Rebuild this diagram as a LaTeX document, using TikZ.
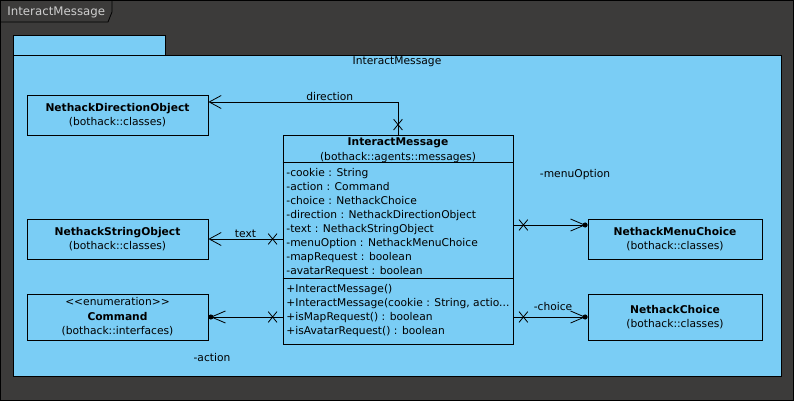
\documentclass[tikz,border=0pt]{standalone}
\usepackage{fontspec}
\setmainfont{DejaVu Sans}
\usetikzlibrary{arrows.meta,shapes.misc}
\definecolor{pkgblue}{RGB}{122,205,245}
\definecolor{framegray}{RGB}{60,59,58}
\definecolor{tabtext}{RGB}{205,205,205}
\tikzset{
  umlfont/.style={font=\fontsize{10.7}{14.5}\selectfont},
  cls/.style={shape=rectangle,draw=black,fill=pkgblue,align=center,inner sep=0pt,umlfont},
  member/.style={anchor=base west,inner sep=0pt,umlfont},
  xmark/.style={shape=cross out,draw=black,minimum width=8pt,minimum height=10pt,inner sep=0pt},
  nav/.style={-{Straight Barb[length=12pt,width=13pt]}},
  owned/.style={-{Straight Barb[length=14pt,width=12pt,sep=-3pt]Circle[length=5pt]}},
}
\begin{document}
\begin{tikzpicture}[x=1pt,y=-1pt,line width=0.8pt]
	\useasboundingbox (0,0) rectangle (794,401);
	% diagram frame
	\fill[framegray] (0,0) rectangle (794,401);
	\draw[black] (0.5,0.5) rectangle (793.5,400.5);
	\draw[black] (0.5,0.5) -- (112,0.5) -- (112,12) -- (108,22) -- (0.5,22);
	\node[font=\fontsize{11.8}{14}\selectfont,text=tabtext,anchor=west,inner sep=0pt] (frame) at (7,12) {InteractMessage};
	% package
	\node[shape=rectangle,draw=black,fill=pkgblue,minimum width=152pt,minimum height=20pt,inner sep=0pt] (pkgtab) at (89,45) {};
	\node[shape=rectangle,draw=black,fill=pkgblue,minimum width=768pt,minimum height=321pt,inner sep=0pt] (pkg) at (397,215.5) {};
	\node[umlfont,inner sep=0pt] (pkgname) at (397,62) {InteractMessage};
	% classes
	\node[cls,minimum width=181pt,minimum height=40pt] (dirobj) at (117.5,115) {\textbf{NethackDirectionObject}\\(bothack::classes)};
	\node[cls,minimum width=181pt,minimum height=40pt] (strobj) at (117.5,239) {\textbf{NethackStringObject}\\(bothack::classes)};
	\node[cls,minimum width=181pt,minimum height=46pt] (command) at (117.5,317) {<\kern0pt<enumeration>\kern0pt>\\\textbf{Command}\\(bothack::interfaces)};
	\node[cls,minimum width=174pt,minimum height=40pt] (menuchoice) at (675,239) {\textbf{NethackMenuChoice}\\(bothack::classes)};
	\node[cls,minimum width=174pt,minimum height=46pt] (choice) at (675,317) {\textbf{NethackChoice}\\(bothack::classes)};
	% InteractMessage class
	\node[cls,minimum width=230pt,minimum height=209pt] (msg) at (398,239.5) {};
	\node[cls,draw=none,fill=none] (msgname) at (398,150) {\textbf{InteractMessage}\\(bothack::agents::messages)};
	\draw (msg.north west) ++(0,28) -- ++(230,0);
	\draw (msg.north west) ++(0,144) -- ++(230,0);
	\node[member] (cookie) at (286,176) {-cookie : String};
	\node[member] (action) at (286,190) {-action : Command};
	\node[member] (choiceattr) at (286,204) {-choice : NethackChoice};
	\node[member] (direction) at (286,218) {-direction : NethackDirectionObject};
	\node[member] (text) at (286,232) {-text : NethackStringObject};
	\node[member] (menuoption) at (286,246) {-menuOption : NethackMenuChoice};
	\node[member] (maprequest) at (286,260) {-mapRequest : boolean};
	\node[member] (avatarrequest) at (286,274) {-avatarRequest : boolean};
	\node[member] (ctor) at (286,292) {+InteractMessage()};
	\node[member] (ctorargs) at (286,306) {+InteractMessage(cookie : String, actio...};
	\node[member] (ismap) at (286,320) {+isMapRequest() : boolean};
	\node[member] (isavatar) at (286,334) {+isAvatarRequest() : boolean};
	% associations
	\draw[nav] (msg.north) |- node[pos=0.68,above,umlfont,inner sep=1pt]{direction} ([yshift=13pt]dirobj.east);
	\node[xmark] (xdir) at ([yshift=10pt]msg.north) {};
	\draw[nav] (msg.west |- strobj.east) -- node[above,umlfont,inner sep=1pt]{text} (strobj.east);
	\node[xmark] (xtext) at ([xshift=-10pt]msg.west |- strobj.east) {};
	\draw[owned] (msg.west |- command.east) -- (command.east);
	\node[xmark] (xaction) at ([xshift=-10pt]msg.west |- command.east) {};
	\node[umlfont,inner sep=0pt] (actionlbl) at (212,358) {-action};
	\draw[owned] (msg.east |- 0,225) -- (menuchoice.west |- 0,225);
	\node[xmark] (xmenu) at ([xshift=10pt]msg.east |- 0,225) {};
	\node[umlfont,inner sep=0pt] (menulbl) at (575,175) {-menuOption};
	\draw[owned] (msg.east |- choice.west) -- (choice.west);
	\node[xmark] (xchoice) at ([xshift=10pt]msg.east |- choice.west) {};
	\node[umlfont,inner sep=0pt] (choicelbl) at (553,307) {-choice};
\end{tikzpicture}
\end{document}
